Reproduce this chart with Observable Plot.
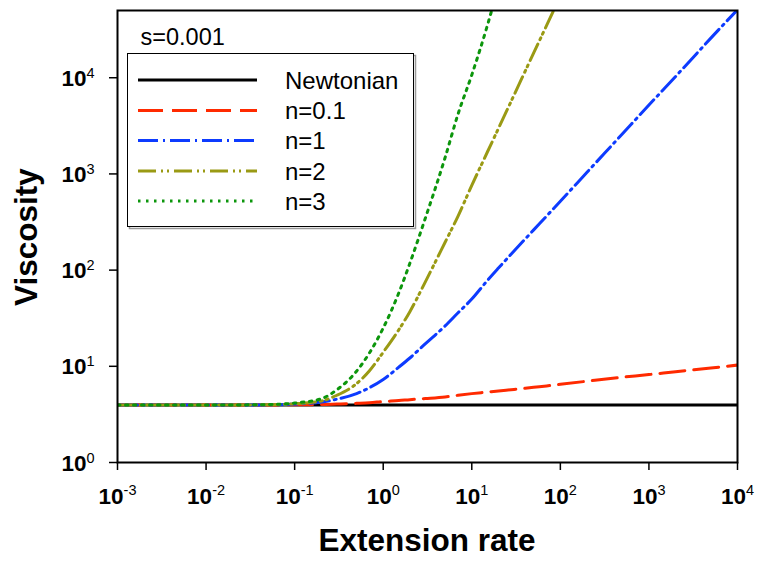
<!DOCTYPE html>
<html><head><meta charset="utf-8">
<script src="https://cdn.jsdelivr.net/npm/d3@7"></script>
<script src="https://cdn.jsdelivr.net/npm/@observablehq/plot@0.6"></script>
<style>
body{margin:0;background:#fff;}
#chart{width:759px;height:567px;}
</style>
</head><body><div id="chart"></div>
<script>
// ---- data ----
const rates = [0.001, 0.01, 0.05, 0.1, 0.2, 0.3, 0.5, 0.7, 1, 1.5, 2, 3, 5, 7, 10, 15, 20, 30, 50, 70, 100, 200, 500, 1000, 2000, 5000, 10000];
const newtonian = [3.95, 3.95, 3.95, 3.95, 3.95, 3.95, 3.95, 3.95, 3.95, 3.95, 3.95, 3.95, 3.95, 3.95, 3.95, 3.95, 3.95, 3.95, 3.95, 3.95, 3.95, 3.95, 3.95, 3.95, 3.95, 3.95, 3.95];
const n01 = [3.95, 3.95, 3.96, 3.98, 4.0, 4.05, 4.12, 4.18, 4.3, 4.4, 4.5, 4.62, 4.8, 5.0, 5.2, 5.4, 5.55, 5.75, 6.05, 6.25, 6.5, 7.0, 7.7, 8.2, 8.8, 9.6, 10.3];
const n1 = [3.95, 3.95, 3.97, 4.05, 4.25, 4.55, 5.2, 6.0, 7.3, 9.8, 12.2, 17.2, 26.3, 36, 50, 78, 105, 158, 262, 365, 520, 1040, 2600, 5200, 10300, 25800, 51000];
const n2 = [3.95, 3.95, 3.98, 4.08, 4.35, 5.0, 6.6, 9.0, 14, 24, 37, 76, 195, 365, 760, 1690, 2970, 6600, 18100, 35000, 70800];
const n3 = [3.95, 3.95, 4.0, 4.15, 4.6, 5.7, 8.9, 13.8, 25, 58, 118, 350, 1480, 4200, 10700, 35000, 90000];
const seriesNames = ["Newtonian", "n=0.1", "n=1", "n=2", "n=3"];
const xTicks = [0.001, 0.01, 0.1, 1, 10, 100, 1000, 10000];
const yTicks = [1, 10, 100, 1000, 10000];
const paramLabel = "s=0.001";
const xTitle = "Extension rate";
const yTitle = "Viscosity";

// ---- styles ----
const seriesValues = [newtonian, n01, n1, n2, n3];
const colors = ["#000000", "#ff2a00", "#0d3bff", "#9a9a14", "#0c960c"];
const dashes = [null, "25,9", "20,5,2,5", "18,5,2,4,2,5", "2.5,5.5"];

const data = seriesNames.flatMap((name, k) =>
  seriesValues[k].map((v, i) => ({rate: rates[i], viscosity: v, series: name})));

const ML = 117, MR = 22, MT = 10, MB = 105, W = 759, H = 567;
const FONT = "'Liberation Sans', Arial, Helvetica, sans-serif";

const chart = Plot.plot({
  width: W, height: H,
  marginLeft: ML, marginRight: MR, marginTop: MT, marginBottom: MB,
  style: {fontFamily: FONT, background: "#fff", color: "#000", overflow: "visible"},
  x: {type: "log", domain: [1e-3, 1e4]},
  y: {type: "log", domain: [1, 5e4]},
  marks: [
    ...seriesNames.map((name, k) => Plot.line(data.filter(d => d.series === name), {
      x: "rate", y: "viscosity", stroke: colors[k], strokeWidth: 3,
      strokeDasharray: dashes[k], curve: "monotone-x", clip: true
    })),
    Plot.frame({stroke: "#000", strokeWidth: 2}),
    Plot.axisX({ticks: xTicks, tickSize: 8, tickPadding: 0, strokeWidth: 1.5,
      tickFormat: d => "10^" + Math.round(Math.log10(d)), label: null}),
    Plot.axisY({ticks: yTicks, tickSize: 8, tickPadding: 15, strokeWidth: 1.5,
      tickFormat: d => "10^" + Math.round(Math.log10(d)), label: null})
  ]
});
document.getElementById("chart").appendChild(chart);

const svg = d3.select(chart);

// superscript tick labels
function supLabels(sel, baseY, supDy) {
  sel.each(function() {
    const t = d3.select(this);
    const parts = this.textContent.split("^");
    t.text(null).attr("y", baseY).attr("dy", null)
      .style("font-size", "22.5px").style("font-weight", "bold").style("font-family", FONT);
    t.append("tspan").text(parts[0]);
    t.append("tspan").attr("dy", supDy).style("font-size", "14.5px").style("font-weight", "normal").text(parts[1]);
  });
}
supLabels(svg.selectAll('g[aria-label="x-axis tick label"] text'), 33, -9);
supLabels(svg.selectAll('g[aria-label="y-axis tick label"] text'), 8, -8);

// axis titles
svg.append("text").attr("x", (ML + W - MR) / 2).attr("y", 551)
  .attr("text-anchor", "middle").style("font", `bold 31.5px ${FONT}`).text(xTitle);
svg.append("text").attr("transform", "translate(37,237) rotate(-90)")
  .attr("text-anchor", "middle").style("font", `bold 31.5px ${FONT}`).text(yTitle);

// legend
const lg = svg.append("g");
lg.append("rect").attr("x", 129.5).attr("y", 55.5).attr("width", 286).attr("height", 173)
  .attr("fill", "none").attr("stroke", "#9a9a9a").attr("stroke-width", 1.5);
lg.append("rect").attr("x", 127.5).attr("y", 53.5).attr("width", 286).attr("height", 173)
  .attr("fill", "#fff").attr("stroke", "#000").attr("stroke-width", 1);
svg.append("text").attr("x", 140.5).attr("y", 45).attr("text-anchor", "start")
  .style("font", `23.5px ${FONT}`).text(paramLabel);
const rowY = [80, 110.5, 140.5, 171, 201];
seriesNames.forEach((name, k) => {
  lg.append("line").attr("x1", 138).attr("x2", 257).attr("y1", rowY[k]).attr("y2", rowY[k])
    .attr("stroke", colors[k]).attr("stroke-width", 3).attr("stroke-dasharray", dashes[k]);
  lg.append("text").attr("x", 285).attr("y", rowY[k] + 8.5).attr("text-anchor", "start")
    .style("font", `24px ${FONT}`).text(name);
});
</script>
</body></html>
